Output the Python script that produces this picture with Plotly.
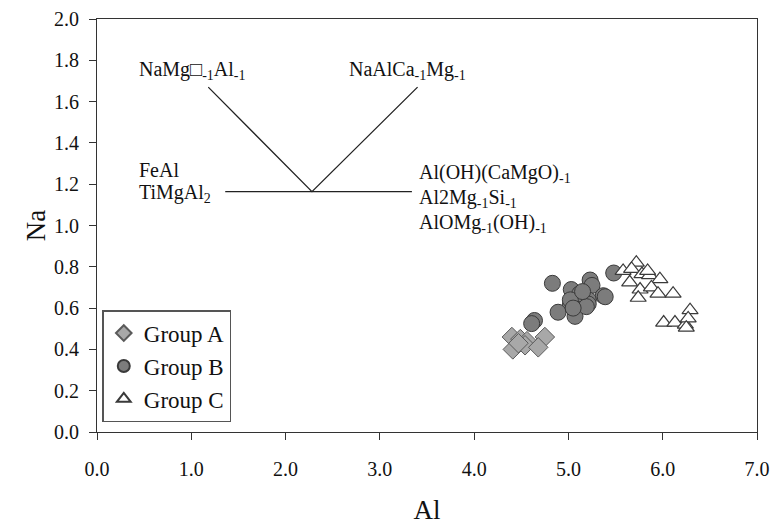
import plotly.graph_objects as go

# Group data (Al, Na)
groupA_al = [4.40, 4.49, 4.56, 4.75, 4.41, 4.54, 4.68, 4.47]
groupA_na = [0.46, 0.45, 0.44, 0.46, 0.40, 0.42, 0.41, 0.43]

groupB_al = [4.83, 5.03, 5.23, 5.25, 5.37, 5.12, 5.21, 5.02, 4.89, 5.07,
             5.21, 4.64, 4.61, 5.48, 5.12, 5.02, 5.19, 5.39, 5.05, 5.15]
groupB_na = [0.72, 0.69, 0.736, 0.71, 0.66, 0.65, 0.64, 0.615, 0.58, 0.56,
             0.62, 0.54, 0.525, 0.77, 0.67, 0.64, 0.607, 0.655, 0.60, 0.68]

groupC_al = [5.72, 5.58, 5.67, 5.78, 5.86, 5.97, 5.65, 5.76, 5.88, 5.74,
             5.95, 6.11, 6.01, 6.13, 6.24, 6.29, 6.27, 6.25, 5.84]
groupC_na = [0.82, 0.78, 0.79, 0.765, 0.76, 0.74, 0.725, 0.69, 0.70, 0.65,
             0.67, 0.67, 0.53, 0.53, 0.52, 0.59, 0.55, 0.505, 0.78]

# Exchange vector diagram (segments)
seg_h_x = [1.36, 3.34]
seg_h_y = [1.164, 1.164]
seg_v_x = [1.18, 2.28, 3.40]
seg_v_y = [1.67, 1.164, 1.67]

# Labels: (text, x, y)
label_texts = ["NaMg□<sub>-1</sub>Al<sub>-1</sub>", "NaAlCa<sub>-1</sub>Mg<sub>-1</sub>",
               "FeAl", "TiMgAl<sub>2</sub>",
               "Al(OH)(CaMgO)<sub>-1</sub>", "Al2Mg<sub>-1</sub>Si<sub>-1</sub>",
               "AlOMg<sub>-1</sub>(OH)<sub>-1</sub>"]
label_x = [0.42, 2.65, 0.42, 0.42, 3.39, 3.39, 3.39]
label_y = [1.75, 1.75, 1.27, 1.155, 1.25, 1.13, 1.01]

xticks = [0, 1, 2, 3, 4, 5, 6, 7]
yticks = [0.0, 0.2, 0.4, 0.6, 0.8, 1.0, 1.2, 1.4, 1.6, 1.8, 2.0]

FONT = "Liberation Serif"

fig = go.Figure()

fig.add_trace(go.Scatter(x=seg_h_x, y=seg_h_y, mode="lines",
                         line=dict(color="#222222", width=1.3),
                         showlegend=False, hoverinfo="skip"))
fig.add_trace(go.Scatter(x=seg_v_x, y=seg_v_y, mode="lines",
                         line=dict(color="#222222", width=1.3),
                         showlegend=False, hoverinfo="skip"))

fig.add_trace(go.Scatter(x=groupA_al, y=groupA_na, mode="markers", name="Group A",
                         marker=dict(symbol="diamond", size=15, color="#a8a8a8",
                                     line=dict(color="#5a5a5a", width=1))))
fig.add_trace(go.Scatter(x=groupB_al, y=groupB_na, mode="markers", name="Group B",
                         marker=dict(symbol="circle", size=16, color="#7c7c7c",
                                     line=dict(color="#3a3a3a", width=1))))
fig.add_trace(go.Scatter(x=groupC_al, y=groupC_na, mode="markers", name="Group C",
                         marker=dict(symbol="triangle-up", size=14, color="#ffffff",
                                     line=dict(color="#3a3a3a", width=1.2))))

for t, xx, yy in zip(label_texts, label_x, label_y):
    fig.add_annotation(x=xx, y=yy, xref="x", yref="y", text=t, showarrow=False,
                       xanchor="left", yanchor="middle",
                       font=dict(family=FONT, size=20, color="#111111"))

axis_common = dict(showline=True, linecolor="#333333", linewidth=1.2, mirror=True,
                   ticks="outside", ticklen=7, tickcolor="#333333", tickwidth=1.2,
                   showgrid=False, zeroline=False, automargin=False,
                   tickfont=dict(family=FONT, size=20, color="#111111"),
                   tickformat=".1f")

fig.update_xaxes(range=[0, 7], tickvals=xticks, ticklabelstandoff=12,
                 title=dict(text="Al", font=dict(family=FONT, size=27, color="#111111"),
                            standoff=21),
                 **axis_common)
fig.update_yaxes(range=[0, 2.0], tickvals=yticks, ticklabelstandoff=6,
                 title=dict(text="Na", font=dict(family=FONT, size=27, color="#111111"),
                            standoff=0),
                 **axis_common)

fig.update_layout(
    width=771, height=525,
    margin=dict(l=97, r=14, t=19, b=93),
    paper_bgcolor="white", plot_bgcolor="white",
    legend=dict(x=0.008, y=0.024, xanchor="left", yanchor="bottom",
                bgcolor="white", bordercolor="#555555", borderwidth=1.5,
                font=dict(family=FONT, size=23, color="#111111"),
                tracegroupgap=0, itemsizing="constant"),
    showlegend=True,
)

fig.write_html("out.html", config={"displayModeBar": False},
               post_script="document.body.style.margin='0';document.body.style.padding='0';")
